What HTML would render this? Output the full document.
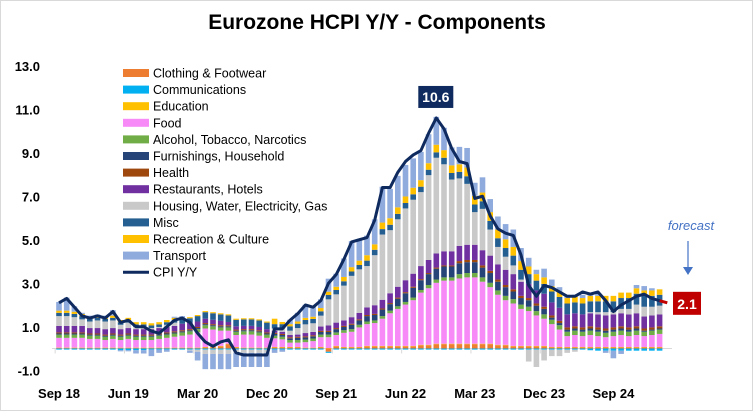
<!DOCTYPE html>
<html><head><meta charset="utf-8"><style>
html,body{margin:0;padding:0;background:#fff;}
svg{display:block;font-family:"Liberation Sans",Arial,sans-serif;}
</style></head><body>
<svg id="chart" width="753" height="411" viewBox="0 0 753 411">
<rect x="0.5" y="0.5" width="752" height="410" fill="#fff" stroke="#d9d9d9"/>
<text x="377" y="29" text-anchor="middle" font-size="21" font-weight="bold" fill="#000">Eurozone HCPI Y/Y - Components</text>
<g id="yaxis"></g>
<g id="xaxis"></g>
<g id="bars"></g>
<g id="lines"></g>
<g id="legend"></g>
<g id="annot"></g>
</svg>
<script>
const months = ["Sep 18","Oct 18","Nov 18","Dec 18","Jan 19","Feb 19","Mar 19","Apr 19","May 19","Jun 19","Jul 19","Aug 19","Sep 19","Oct 19","Nov 19","Dec 19","Jan 20","Feb 20","Mar 20","Apr 20","May 20","Jun 20","Jul 20","Aug 20","Sep 20","Oct 20","Nov 20","Dec 20","Jan 21","Feb 21","Mar 21","Apr 21","May 21","Jun 21","Jul 21","Aug 21","Sep 21","Oct 21","Nov 21","Dec 21","Jan 22","Feb 22","Mar 22","Apr 22","May 22","Jun 22","Jul 22","Aug 22","Sep 22","Oct 22","Nov 22","Dec 22","Jan 23","Feb 23","Mar 23","Apr 23","May 23","Jun 23","Jul 23","Aug 23","Sep 23","Oct 23","Nov 23","Dec 23","Jan 24","Feb 24","Mar 24","Apr 24","May 24","Jun 24","Jul 24","Aug 24","Sep 24","Oct 24","Nov 24","Dec 24","Jan 25","Feb 25","Mar 25"];
const xTickLabels = ["Sep 18","Jun 19","Mar 20","Dec 20","Sep 21","Jun 22","Mar 23","Dec 23","Sep 24"];
const yTicks = [-1,1,3,5,7,9,11,13];
const cpi = [2.1,2.3,1.9,1.5, 1.4,1.5,1.4,1.7,1.2,1.3,1.0,1.0,0.8,0.7,1.0,1.3, 1.4,1.2,0.7,0.3,0.1,0.3,0.4,-0.2,-0.3,-0.3,-0.3,-0.3, 0.9,0.9,1.3,1.6,2.0,1.9,2.2,3.0,3.4,4.1,4.9,5.0, 5.1,5.9,7.4,7.4,8.1,8.6,8.9,9.1,9.9,10.6,10.1,9.2, 8.6,8.5,6.9,7.0,6.1,5.5,5.3,5.2,4.3,2.9,2.4,2.9, 2.8,2.6,2.4,2.4,2.6,2.5,2.6,2.2,1.7,2.0,2.2,2.4, 2.5,2.3,2.2];
const forecastLabel = "Apr 25";
const forecastValue = 2.1;
const peakLabel = "Oct 22";
const clothing = [0.02,0.02,0.02,0.02, 0.02,0.02,0.02,0.02,0.02,0.02,0.02,0.02,0.02,0.02,0.02,0.02, 0.02,0.02,0.02,0.05,0.05,0.1,0.2,0.05,0.02,0.02,0.02,0.02, 0.05,0.05,0.05,0.05,0.02,0.02,0.05,-0.15,0.1,0.05,0.05,0.05, 0.1,0.1,0.1,0.1,0.1,0.1,0.1,0.15,0.15,0.2,0.2,0.2, 0.2,0.2,0.2,0.2,0.2,0.15,0.15,0.1,0.1,0.1,0.1,0.1, 0.05,0.05,0.05,0.05,0.05,0.05,0.05,0.05,0.05,0.05,0.05,0.05, 0.05,0.05,0.05];
const comms = [-0.05,-0.05,-0.05,-0.05, -0.05,-0.05,-0.05,-0.05,-0.08,-0.08,-0.08,-0.08,-0.05,-0.05,-0.05,-0.05, -0.05,-0.05,-0.05,-0.05,-0.05,-0.05,-0.05,-0.05,-0.05,-0.05,-0.05,-0.05, -0.05,-0.05,-0.05,-0.05,-0.05,-0.05,-0.05,-0.05,-0.05,-0.05,-0.05,-0.05, -0.05,-0.05,-0.05,-0.05,-0.05,-0.05,-0.05,-0.05,-0.05,-0.05,-0.05,-0.05, -0.05,-0.05,-0.05,-0.05,-0.05,-0.05,-0.05,-0.05,-0.05,-0.05,-0.05,-0.05, -0.05,-0.05,-0.05,-0.05,-0.05,-0.08,-0.1,-0.1,-0.1,-0.1,-0.1,-0.1, -0.1,-0.1,-0.1];
const education = [0.02,0.02,0.02,0.02, 0.02,0.02,0.02,0.02,0.02,0.02,0.02,0.02,0.02,0.02,0.02,0.02, 0.02,0.02,0.02,0.02,0.02,0.02,0.02,0.02,0.02,0.02,0.02,0.02, 0.02,0.02,0.02,0.02,0.02,0.02,0.02,0.02,0.02,0.02,0.02,0.02, 0.02,0.02,0.02,0.02,0.02,0.02,0.02,0.02,0.02,0.02,0.02,0.02, 0.02,0.02,0.02,0.02,0.02,0.02,0.02,0.02,0.02,0.02,0.02,0.02, 0.02,0.02,0.02,0.02,0.02,0.02,0.02,0.02,0.02,0.02,0.02,0.02, 0.02,0.02,0.02];
const food = [0.45,0.45,0.45,0.45, 0.4,0.4,0.35,0.4,0.35,0.4,0.35,0.35,0.35,0.4,0.45,0.5, 0.55,0.6,0.7,0.85,0.8,0.7,0.6,0.55,0.6,0.6,0.55,0.45, 0.4,0.35,0.2,0.2,0.25,0.3,0.45,0.5,0.5,0.65,0.7,0.9, 1.0,1.05,1.25,1.5,1.7,1.9,2.1,2.4,2.6,2.8,2.9,2.9, 3.0,3.05,3.05,2.85,2.6,2.3,2.05,1.95,1.7,1.6,1.4,1.25, 1.05,0.8,0.5,0.55,0.5,0.55,0.5,0.45,0.5,0.55,0.5,0.55, 0.5,0.55,0.6];
const alcohol = [0.15,0.15,0.15,0.15, 0.15,0.15,0.15,0.15,0.15,0.15,0.15,0.15,0.15,0.15,0.15,0.15, 0.15,0.15,0.15,0.15,0.15,0.15,0.15,0.15,0.15,0.15,0.15,0.15, 0.12,0.12,0.12,0.12,0.12,0.12,0.12,0.12,0.12,0.12,0.12,0.12, 0.12,0.12,0.12,0.12,0.12,0.12,0.12,0.12,0.15,0.15,0.15,0.15, 0.2,0.2,0.2,0.2,0.2,0.2,0.2,0.2,0.2,0.2,0.2,0.2, 0.2,0.2,0.2,0.2,0.2,0.2,0.2,0.2,0.2,0.2,0.2,0.2, 0.2,0.2,0.2];
const furnishings = [0.05,0.05,0.05,0.05, 0.05,0.05,0.05,0.05,0.05,0.05,0.05,0.05,0.05,0.05,0.05,0.05, 0.05,0.05,0.05,0.05,0.05,0.05,0.05,0.05,0.05,0.05,0.05,0.05, 0.08,0.08,0.08,0.1,0.1,0.1,0.12,0.12,0.15,0.15,0.2,0.2, 0.25,0.25,0.3,0.3,0.35,0.4,0.45,0.45,0.5,0.5,0.5,0.5, 0.5,0.5,0.5,0.45,0.45,0.4,0.4,0.35,0.3,0.3,0.25,0.25, 0.1,0.1,0.1,0.1,0.1,0.1,0.1,0.1,0.1,0.1,0.1,0.1, 0.05,0.05,0.05];
const health = [0.05,0.05,0.05,0.05, 0.05,0.05,0.05,0.05,0.05,0.05,0.05,0.05,0.05,0.05,0.05,0.05, 0.05,0.05,0.05,0.05,0.05,0.05,0.05,0.05,0.05,0.05,0.05,0.05, 0.05,0.05,0.05,0.05,0.05,0.05,0.05,0.05,0.05,0.05,0.05,0.05, 0.05,0.05,0.05,0.05,0.05,0.05,0.05,0.05,0.05,0.05,0.05,0.05, 0.1,0.1,0.1,0.1,0.1,0.1,0.1,0.1,0.1,0.1,0.1,0.1, 0.1,0.1,0.1,0.1,0.1,0.1,0.1,0.1,0.1,0.1,0.1,0.1, 0.1,0.1,0.1];
const restaurants = [0.3,0.3,0.3,0.3, 0.25,0.25,0.25,0.25,0.25,0.25,0.25,0.25,0.25,0.25,0.25,0.25, 0.3,0.3,0.25,0.2,0.2,0.2,0.15,0.15,0.15,0.15,0.15,0.15, 0.1,0.1,0.1,0.1,0.15,0.15,0.2,0.25,0.25,0.25,0.3,0.3, 0.35,0.4,0.4,0.45,0.5,0.55,0.6,0.6,0.6,0.65,0.65,0.65, 0.7,0.7,0.7,0.7,0.7,0.7,0.7,0.7,0.65,0.65,0.6,0.6, 0.6,0.6,0.6,0.6,0.6,0.6,0.6,0.6,0.6,0.6,0.6,0.6, 0.55,0.55,0.55];
const housing = [0.45,0.45,0.4,0.3, 0.3,0.35,0.35,0.35,0.2,0.25,0.1,0.1,0.05,0.05,0.1,0.15, 0.0,-0.05,-0.1,-0.2,-0.2,-0.2,-0.2,-0.15,-0.15,-0.15,-0.15,-0.15, 0.1,0.15,0.2,0.3,0.4,0.4,0.5,1.2,1.3,1.6,1.9,2.0, 1.9,2.3,3.0,2.9,3.1,3.3,3.4,3.4,3.9,4.4,4.0,3.3, 3.1,2.8,1.5,1.9,1.2,0.8,0.6,0.4,0.1,-0.55,-0.8,-0.5, -0.3,-0.3,-0.15,-0.1,0.0,0.05,0.1,0.15,0.1,0.2,0.25,0.4, 0.45,0.4,0.4];
const misc = [0.15,0.15,0.15,0.15, 0.12,0.12,0.12,0.12,0.12,0.12,0.12,0.12,0.12,0.12,0.12,0.12, 0.2,0.2,0.25,0.3,0.3,0.3,0.3,0.3,0.3,0.3,0.3,0.3, 0.2,0.2,0.2,0.2,0.2,0.2,0.2,0.2,0.2,0.2,0.2,0.2, 0.25,0.25,0.25,0.25,0.25,0.25,0.25,0.25,0.25,0.25,0.3,0.3, 0.3,0.35,0.35,0.35,0.4,0.4,0.4,0.45,0.45,0.45,0.45,0.45, 0.5,0.5,0.5,0.5,0.5,0.5,0.5,0.5,0.5,0.5,0.5,0.5, 0.5,0.5,0.5];
const recreation = [0.1,0.1,0.1,0.1, 0.1,0.1,0.1,0.1,0.1,0.1,0.1,0.1,0.1,0.1,0.1,0.1, 0.05,0.05,0.05,0.05,0.05,0.05,0.05,0.05,0.05,0.05,0.05,0.05, 0.25,0.1,0.1,0.1,0.1,0.1,0.15,0.15,0.15,0.2,0.2,0.2, 0.25,0.25,0.3,0.3,0.3,0.3,0.3,0.3,0.3,0.35,0.35,0.35, 0.35,0.4,0.4,0.4,0.4,0.4,0.4,0.4,0.4,0.35,0.3,0.3, 0.25,0.25,0.25,0.25,0.25,0.25,0.25,0.25,0.25,0.25,0.25,0.25, 0.25,0.25,0.25];
const transport = [0.4,0.6,0.25,0.05, 0.05,0.05,0.05,0.25,-0.05,-0.05,-0.15,-0.15,-0.3,-0.15,-0.1,0.05, 0.1,-0.1,-0.4,-0.7,-0.7,-0.7,-0.7,-0.65,-0.65,-0.65,-0.65,-0.65, -0.15,-0.1,0.2,0.4,0.6,0.5,0.4,0.6,0.6,0.85,1.2,1.0, 0.9,1.15,1.65,1.35,1.45,1.45,1.35,1.3,1.33,1.28,1.03,0.83, 0.8,0.9,0.6,0.7,0.6,0.6,0.7,0.8,0.6,0.4,0.2,0.4, 0.3,0.2,0.15,0.1,0.15,0.1,0.1,-0.1,-0.35,-0.15,0.0,0.15, 0.2,0.1,0.0];
const seriesNames = ["Clothing & Footwear","Communications","Education","Food","Alcohol, Tobacco, Narcotics","Furnishings, Household","Health","Restaurants, Hotels","Housing, Water, Electricity, Gas","Misc","Recreation & Culture","Transport"];
const seriesData = [clothing,comms,education,food,alcohol,furnishings,health,restaurants,housing,misc,recreation,transport];

const colors = ["#ed7d31","#00b0f0","#ffc000","#f78af7","#70ad47","#264478","#9e480e","#7030a0","#c9c9c9","#255e91","#ffc000","#8faadc"];
const NS="http://www.w3.org/2000/svg";
function mk(tag,attrs,parent){const e=document.createElementNS(NS,tag);for(const k in attrs)e.setAttribute(k,attrs[k]);parent.appendChild(e);return e;}
const x0=59, dx=7.7, y0=348.5, pxu=21.75, bw=5.6;
function xs(i){return x0+i*dx;}
function ys(v){return y0-v*pxu;}
function xi(label){const i=months.indexOf(label);return i>=0?i:months.length;}

const ya=document.getElementById('yaxis');
yTicks.forEach(t=>{
  const tx=mk('text',{x:40,y:ys(t)+5,'text-anchor':'end','font-size':13,'font-weight':'bold',fill:'#000'},ya);
  tx.textContent=t.toFixed(1);
  
  
});
const xa=document.getElementById('xaxis');
const bl=mk('line',{x1:52,x2:672,y1:y0,y2:y0,stroke:'#d9d9d9','stroke-width':1},xa);


xTickLabels.forEach(l=>{
  const i=xi(l);
  const tk=mk('line',{x1:xs(i)-dx/2,x2:xs(i)-dx/2,y1:y0,y2:y0+5,stroke:'#d9d9d9'},xa);
  
  
  const tx=mk('text',{x:xs(i),y:398,'text-anchor':'middle','font-size':13,'font-weight':'bold',fill:'#000'},xa);
  tx.textContent=l;
  
  
});
const bg=document.getElementById('bars');
months.forEach((m,i)=>{
  let pos=0,neg=0;
  seriesData.forEach((s,k)=>{
    const v=s[i]; if(!v) return;
    let yTop,h;
    if(v>0){yTop=ys(pos+v);h=v*pxu;pos+=v;}else{yTop=ys(neg);h=-v*pxu;neg+=v;}
    const r=mk('rect',{x:xs(i)-bw/2,y:yTop,width:bw,height:h,fill:colors[k]},bg);
    
    
  });
});
const lg=document.getElementById('lines');
const pts=cpi.map((v,i)=>xs(i)+','+ys(v)).join(' ');
const fi=xi(forecastLabel);
const fl=mk('polyline',{points:xs(cpi.length-1)+','+ys(cpi[cpi.length-1])+' '+xs(fi)+','+ys(forecastValue),fill:'none',stroke:'#c00000','stroke-width':3},lg);


const pl=mk('polyline',{points:pts,fill:'none',stroke:'#0e2a5e','stroke-width':3,'stroke-linejoin':'round'},lg);


const lgd=document.getElementById('legend');
seriesNames.forEach((n,k)=>{
  const y=73+k*16.6;
  const sw=mk('rect',{x:123,y:y-4,width:26,height:8,fill:colors[k]},lgd);
  
  
  const t=mk('text',{x:153,y:y+4.5,'font-size':12.5,fill:'#000'},lgd);
  t.textContent=n;
  
  
});
{
  const y=73+12*16.6;
  const ln=mk('line',{x1:123,x2:149,y1:y,y2:y,stroke:'#0e2a5e','stroke-width':3},lgd);
  
  
  const t=mk('text',{x:153,y:y+4.5,'font-size':12.5,fill:'#000'},lgd);
  t.textContent="CPI Y/Y";
  
  
}
const an=document.getElementById('annot');
const pi=xi(peakLabel), pv=cpi[pi];
const pb=mk('rect',{x:xs(pi)-18,y:ys(pv)-32,width:35,height:22,fill:'#0e2a5e'},an);


const pt=mk('text',{x:xs(pi)-0.5,y:ys(pv)-16,'text-anchor':'middle','font-size':14,'font-weight':'bold',fill:'#fff'},an);
pt.textContent=pv.toFixed(1);


const fb=mk('rect',{x:673,y:ys(forecastValue)-11,width:28,height:23,fill:'#c00000'},an);


const ft=mk('text',{x:687,y:ys(forecastValue)+6,'text-anchor':'middle','font-size':14,'font-weight':'bold',fill:'#fff'},an);
ft.textContent=forecastValue.toFixed(1);


const fc=mk('text',{x:691,y:230,'text-anchor':'middle','font-size':13,'font-style':'italic',fill:'#4472c4'},an);
fc.textContent="forecast";


const ar=mk('line',{x1:688,x2:688,y1:241,y2:268,stroke:'#4472c4','stroke-width':1.2},an);


const ah=mk('polygon',{points:'683,267 693,267 688,275',fill:'#4472c4'},an);


</script>
</body></html>
